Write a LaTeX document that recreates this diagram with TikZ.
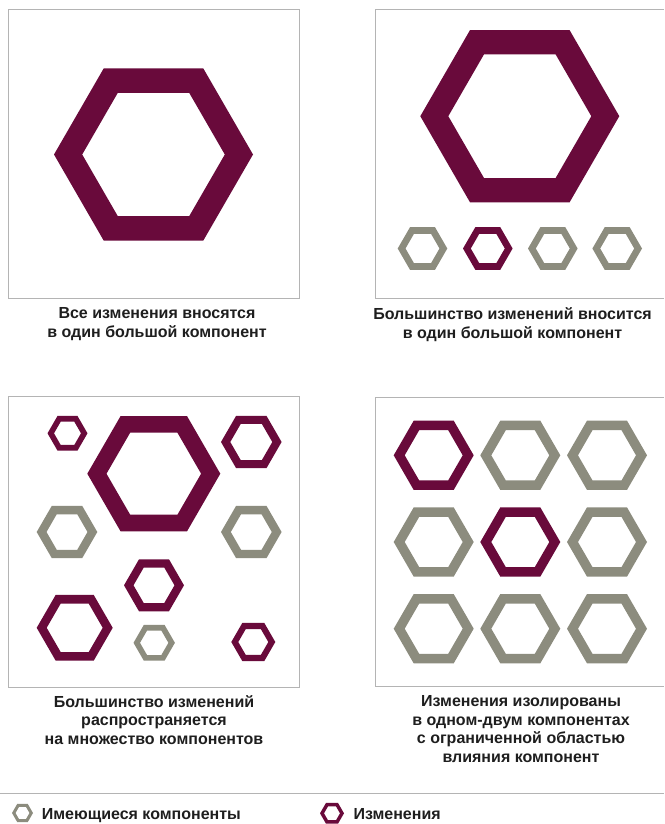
\documentclass[tikz,border=0pt]{standalone}
\usepackage{fontspec}
\setmainfont{Liberation Sans}
\definecolor{chg}{HTML}{690A3B}
\definecolor{comp}{HTML}{8C8C7E}
\definecolor{frame}{HTML}{B4B4B4}
\definecolor{txt}{HTML}{1E1E1E}
\newcommand\hexring[5]{%
  \fill[#5,even odd rule] (#1,#2) +(0:#3) -- +(60:#3) -- +(120:#3) -- +(180:#3) -- +(240:#3) -- +(300:#3) -- cycle
    (#1,#2) +(0:#4) -- +(60:#4) -- +(120:#4) -- +(180:#4) -- +(240:#4) -- +(300:#4) -- cycle;}
\begin{document}
\begin{tikzpicture}[x=1pt,y=-1pt,
  panelframe/.style={draw=frame,line width=0.9pt},
  caption/.style={anchor=north,inner sep=0pt,align=center,text=txt,font=\fontsize{16}{18.6}\selectfont\bfseries},
  legendtext/.style={anchor=base west,inner sep=0pt,text=txt,font=\fontsize{16}{18}\selectfont\bfseries}]
\useasboundingbox[fill=white] (0,0) rectangle (664,824);
% frames
\draw[panelframe] (8,9) rectangle (299,298);
\draw[panelframe] (664,9) -- (375,9) -- (375,298) -- (664,298);
\draw[panelframe] (8,396) rectangle (299,687);
\draw[panelframe] (664,397) -- (375,397) -- (375,686) -- (664,686);
% panel 1
\hexring{153.5}{154.5}{99.5}{71.3}{chg}
% panel 2
\hexring{519.8}{116.2}{99.5}{71.5}{chg}
\hexring{422.5}{248.5}{24.8}{17}{comp}
\hexring{487.8}{248.5}{24.8}{17}{chg}
\hexring{552.8}{248.5}{24.8}{17}{comp}
\hexring{617.2}{248.5}{24.8}{17}{comp}
% panel 3
\hexring{67.5}{433.3}{20}{13.5}{chg}
\hexring{153.8}{473.7}{66.5}{47.3}{chg}
\hexring{251.3}{442}{30.3}{21}{chg}
\hexring{67}{532}{30.3}{20.5}{comp}
\hexring{251.3}{532}{30.3}{20.5}{comp}
\hexring{154}{585.3}{30}{20.5}{chg}
\hexring{74.7}{627.8}{38}{28}{chg}
\hexring{154.2}{642.8}{20.7}{14.2}{comp}
\hexring{253.3}{642}{22}{15}{chg}
% panel 4
\hexring{433.7}{455.3}{40}{29}{chg}
\hexring{520.3}{455.3}{40}{29}{comp}
\hexring{607}{455.3}{40}{29}{comp}
\hexring{433.7}{542}{40}{29}{comp}
\hexring{520.3}{542}{40}{29}{chg}
\hexring{607}{542}{40}{29}{comp}
\hexring{433.7}{628.7}{40}{29}{comp}
\hexring{520.3}{628.7}{40}{29}{comp}
\hexring{607}{628.7}{40}{29}{comp}
% captions
\node[caption] (cap1) at (157,307.5) {Все изменения вносятся\\в один большой компонент};
\node[caption] (cap2) at (512.5,307.5) {Большинство изменений вносится\\в один большой компонент};
\node[caption] (cap3) at (154,695) {Большинство изменений\\распространяется\\на множество компонентов};
\node[caption] (cap4) at (521,695.5) {Изменения изолированы\\в одном-двум компонентах\\с ограниченной областью\\влияния компонент};
% legend
\draw[draw=frame,line width=1pt] (0,793.3) -- (664,793.3);
\hexring{22.5}{813}{10.5}{7}{comp}
\node[legendtext] (leg1) at (41.7,819.3) {Имеющиеся компоненты};
\hexring{332}{813.3}{12}{8}{chg}
\node[legendtext] (leg2) at (353.3,819.3) {Изменения};
\end{tikzpicture}
\end{document}
